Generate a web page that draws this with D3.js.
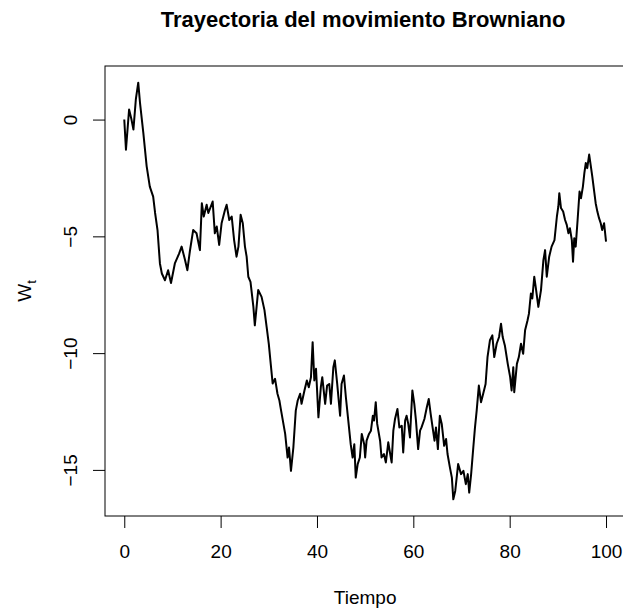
<!DOCTYPE html>
<html>
<head>
<meta charset="utf-8">
<script src="https://cdn.jsdelivr.net/npm/d3@7"></script>
<style>
  body { margin: 0; background: #fff; }
  text { font-family: "Liberation Sans", Arial, sans-serif; fill: #000; }
</style>
</head>
<body>
<div id="graph1"></div>
<script>
// time values
let tiempo = [
  0, 0.35, 1.0, 1.5, 1.9, 2.4, 2.9, 3.26, 3.95, 4.65, 5.3, 6.0, 6.4, 6.9, 7.4, 7.8, 8.45, 9.1, 9.7,
  10.5, 11.4, 11.9, 12.6, 13.1, 13.6, 14.3, 15.0, 15.7, 16.1, 16.5, 17.1, 17.45, 18.35, 18.8, 19.2, 19.7,
  20.2, 20.9, 21.25, 21.8, 22.3, 22.8, 23.3, 23.7, 24.15, 24.6, 25.05, 25.4, 25.75, 26.2, 26.8, 27.1, 27.8,
  28.5, 29.1, 29.55, 30.0, 30.4, 30.8, 31.3, 31.8, 32.2, 32.5, 33.4, 33.9, 34.2, 34.6, 35.1, 35.6, 36.0,
  36.5, 36.8, 37.4, 37.9, 38.3, 38.75, 39.1, 39.45, 39.8, 40.3, 40.8, 41.1, 41.7, 42.1, 42.55, 42.9, 43.4,
  43.7, 44.2, 44.8, 45.1, 45.6, 46.0, 46.5, 47.0, 47.4, 47.75, 48.05, 48.45, 48.9, 49.3, 49.8, 50.0, 50.3,
  50.8, 51.2, 51.6, 51.85, 52.2, 52.5, 53.1, 53.4, 53.9, 54.3, 54.8, 55.2, 55.5, 55.85, 56.2, 56.7, 57.1,
  57.6, 57.9, 58.3, 58.6, 58.95, 59.3, 59.8, 60.2, 60.55, 61.0, 61.4, 61.7, 62.3, 62.8, 63.2, 63.6, 64.0,
  64.4, 64.7, 65.1, 65.5, 65.9, 66.4, 66.8, 67.1, 67.6, 68.0, 68.3, 68.7, 69.3, 69.9, 70.4, 70.9, 71.3,
  71.6, 72.0, 72.45, 72.8, 73.15, 73.6, 74.05, 74.5, 75.0, 75.4, 75.9, 76.4, 76.8, 77.3, 77.8, 78.2, 78.55,
  79.0, 79.6, 80.1, 80.4, 80.75, 80.95, 81.5, 81.9, 82.35, 82.8, 83.2, 83.7, 84.0, 84.4, 84.7, 85.1, 85.4,
  85.95, 86.5, 87.0, 87.35, 87.7, 88.2, 88.7, 89.3, 89.8, 90.1, 90.3, 90.65, 91.1, 91.5, 91.85, 92.2, 92.5,
  92.9, 93.15, 93.4, 93.7, 94.1, 94.5, 94.8, 95.2, 95.5, 95.8, 96.1, 96.5, 96.8, 97.15, 97.5, 97.85, 98.2,
  98.55, 98.9, 99.2, 99.6, 100
];

// W_t values
let wt = [
  0, -1.29, 0.43, 0, -0.43, 0.86, 1.58, 0.73, -0.56, -2.0, -2.87, -3.3, -4.0, -4.73, -6.16, -6.59, -6.88, -6.45, -7.0,
  -6.16, -5.73, -5.44, -6.0, -6.45, -5.66, -4.73, -4.87, -5.59, -3.58, -4.15, -3.65, -4.0, -3.51, -4.87, -4.58, -5.37,
  -4.44, -3.87, -3.65, -4.3, -4.15, -5.16, -5.87, -5.44, -4.08, -4.44, -5.44, -5.87, -6.73, -6.95, -8.02, -8.81, -7.3,
  -7.59, -8.16, -8.88, -9.6, -10.46, -11.3, -11.1, -11.74, -12.03, -12.4, -13.46, -14.47, -14.04, -15.04, -14.04, -12.46, -12.03,
  -11.74, -12.17, -11.6, -11.17, -11.46, -11.03, -9.53, -11.17, -10.67, -12.75, -11.46, -11.03, -12.17, -11.39, -11.32, -12.17, -10.6,
  -10.31, -11.32, -12.68, -11.32, -10.96, -11.89, -12.89, -13.9, -14.47, -13.9, -15.33, -14.75, -14.47, -13.46, -13.9, -14.47, -13.75,
  -13.46, -13.32, -12.68, -12.89, -12.1, -13.03, -13.75, -14.47, -14.32, -14.68, -13.82, -14.32, -14.68, -13.32, -12.82, -12.39, -13.18,
  -13.11, -14.25, -12.89, -12.68, -13.03, -13.61, -11.6, -12.17, -12.89, -14.11, -13.32, -13.18, -12.82, -12.32, -11.96, -12.6, -13.18,
  -13.75, -13.18, -14.11, -12.68, -13.03, -13.97, -13.68, -14.32, -14.9, -15.33, -16.26, -15.9, -14.75, -15.18, -15.04, -15.61, -15.18,
  -15.97, -15.18, -14.04, -13.18, -12.46, -11.39, -12.1, -11.74, -11.32, -10.17, -9.45, -9.24, -10.17, -9.6, -9.31, -8.74, -9.31,
  -9.67, -10.46, -11.03, -11.6, -10.6, -11.67, -10.46, -10.17, -9.6, -10.03, -9.02, -8.6, -8.31, -7.45, -7.66, -6.73, -7.16,
  -8.02, -7.3, -6.02, -5.59, -6.73, -5.87, -5.44, -5.16, -4.15, -3.72, -3.15, -3.79, -3.94, -4.3, -4.51, -4.87, -4.65,
  -5.16, -6.09, -5.08, -5.44, -4.3, -3.08, -3.37, -2.87, -2.29, -1.86, -2.08, -1.5, -1.93, -2.44, -3.01, -3.58, -3.94,
  -4.22, -4.44, -4.73, -4.44, -5.23
];

let xTicks = [0, 20, 40, 60, 80, 100];
let yTicks = [0, -5, -10, -15];

let width = 623, height = 609;
let box = { left: 105, right: 625.3, top: 66, bottom: 516 };

// R style 4% padding on both axes
let pad = ext => {
    let r = ext[1] - ext[0];
    return [ext[0] - 0.04 * r, ext[1] + 0.04 * r];
};

let svg = d3.select("#graph1")
    .append("svg")
    .attr("width", width)
    .attr("height", height);

let x = d3.scaleLinear()
    .domain(pad(d3.extent(tiempo)))
    .range([box.left, box.right]);

let y = d3.scaleLinear()
    .domain(pad(d3.extent(wt)))
    .range([box.bottom, box.top]);

let data = tiempo.map((t, i) => ({ t: t, w: wt[i] }));

svg.append("path")
    .datum(data)
    .attr("fill", "none")
    .attr("stroke", "#000")
    .attr("stroke-width", 2)
    .attr("stroke-linejoin", "round")
    .attr("d", d3.line().x(d => x(d.t)).y(d => y(d.w)));

// plot box
svg.append("rect")
    .attr("x", box.left)
    .attr("y", box.top)
    .attr("width", box.right - box.left)
    .attr("height", box.bottom - box.top)
    .attr("fill", "none")
    .attr("stroke", "#000")
    .attr("stroke-width", 1);

// x axis
let xAxis = svg.append("g")
    .attr("transform", `translate(0, ${box.bottom})`)
    .call(d3.axisBottom(x).tickValues(xTicks).tickSize(12).tickPadding(17).tickFormat(d3.format("d")));
xAxis.select(".domain").remove();
xAxis.selectAll("text")
    .style("font-size", "19px")
    .style("font-family", "Liberation Sans, Arial, sans-serif");

// y axis with rotated labels
let yAxis = svg.append("g")
    .attr("transform", `translate(${box.left}, 0)`)
    .call(d3.axisLeft(y).tickValues(yTicks).tickSize(12).tickFormat(d => d3.format("d")(d).replace("-", "−")));
yAxis.select(".domain").remove();
yAxis.selectAll("text")
    .attr("x", null)
    .attr("dy", null)
    .attr("transform", "translate(-35, 0) rotate(-90)")
    .attr("dominant-baseline", "central")
    .style("text-anchor", "middle")
    .style("font-size", "19px")
    .style("font-family", "Liberation Sans, Arial, sans-serif");

svg.append("text")
    .attr("x", 363)
    .attr("y", 27)
    .style("text-anchor", "middle")
    .style("font-size", "22px")
    .style("font-weight", "bold")
    .text("Trayectoria del movimiento Browniano");

svg.append("text")
    .attr("x", (box.left + box.right) / 2)
    .attr("y", 604)
    .style("text-anchor", "middle")
    .style("font-size", "19px")
    .text("Tiempo");

let ylab = svg.append("text")
    .attr("transform", `translate(31, ${(box.top + box.bottom) / 2}) rotate(-90)`)
    .style("text-anchor", "middle")
    .style("font-size", "19px");
ylab.append("tspan").text("W");
ylab.append("tspan")
    .attr("dy", 5)
    .style("font-size", "13px")
    .text("t");
</script>
</body>
</html>
